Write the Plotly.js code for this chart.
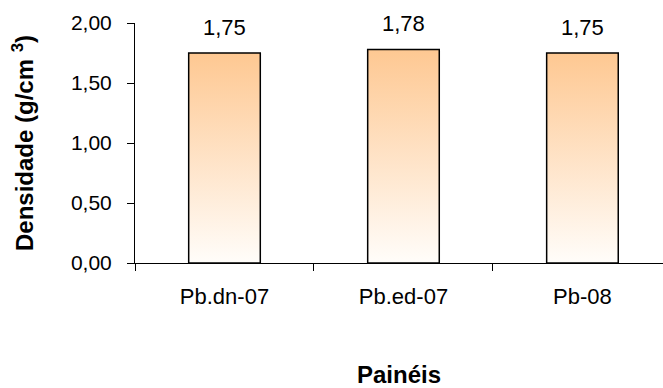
<!DOCTYPE html>
<html>
<head>
<meta charset="utf-8">
<script src="https://cdn.plot.ly/plotly-3.0.1.min.js"></script>
<style>html,body{margin:0;padding:0;background:#fff;}#chart{width:663px;height:388px;}</style>
</head>
<body>
<div id="chart"></div>
<script>
const categories = ['Pb.dn-07', 'Pb.ed-07', 'Pb-08'];
const densidade = [1.75, 1.78, 1.75];
const yTickVals = [0, 0.5, 1.0, 1.5, 2.0];

const FONT = 'Liberation Sans, Arial, sans-serif';
const barHalf = 0.2;
const fmt = v => v.toFixed(2).replace('.', ',');

const traces = categories.map((c, i) => {
  const v = densidade[i];
  return {
    type: 'scatter',
    mode: 'lines',
    x: [i - barHalf, i - barHalf, i + barHalf, i + barHalf, i - barHalf],
    y: [0, v, v, 0, 0],
    fill: 'toself',
    fillgradient: {
      type: 'vertical',
      colorscale: [[0, 'rgb(255,253,250)'], [1, 'rgb(254,200,146)']]
    },
    line: {color: '#000', width: 1.5},
    hoverinfo: 'skip',
    showlegend: false
  };
});

const annotations = categories.map((c, i) => ({
  x: i, y: densidade[i], xref: 'x', yref: 'y',
  text: fmt(densidade[i]), showarrow: false,
  yanchor: 'bottom', yshift: 11,
  font: {family: FONT, size: 22, color: '#000'}
}));

const layout = {
  width: 663, height: 388,
  margin: {l: 135, r: 0, t: 23, b: 125},
  paper_bgcolor: '#fff', plot_bgcolor: '#fff',
  separators: ',.',
  showlegend: false,
  font: {family: FONT, color: '#000'},
  xaxis: {
    range: [-0.5, 2.45],
    tickvals: [0, 1, 2],
    ticktext: categories,
    ticks: '', showgrid: false, zeroline: false,
    showline: true, linecolor: '#000', linewidth: 1,
    tickfont: {family: FONT, size: 22, color: '#000'},
    ticklabelstandoff: 14,
    minor: {tickvals: [-0.5, 0.5, 1.5, 2.5], ticks: 'outside', ticklen: 7, tickcolor: '#000', tickwidth: 1, showgrid: false},
    title: {text: '<b>Painéis</b>', font: {family: FONT, size: 24, color: '#000'}, standoff: 57},
    fixedrange: true
  },
  yaxis: {
    range: [0, 2],
    tickvals: yTickVals,
    tickformat: '.2f',
    ticks: 'outside', ticklen: 7, tickcolor: '#000', tickwidth: 1,
    showgrid: false, zeroline: false,
    showline: true, linecolor: '#000', linewidth: 1,
    tickfont: {family: FONT, size: 21, color: '#000'},
    ticklabelstandoff: 11,
    title: {text: '<b>Densidade (g/cm <sup>3</sup>)</b>', font: {family: FONT, size: 24, color: '#000'}, standoff: 30},
    fixedrange: true
  },
  annotations: annotations
};

Plotly.newPlot('chart', traces, layout, {displayModeBar: false, staticPlot: true});
</script>
</body>
</html>
